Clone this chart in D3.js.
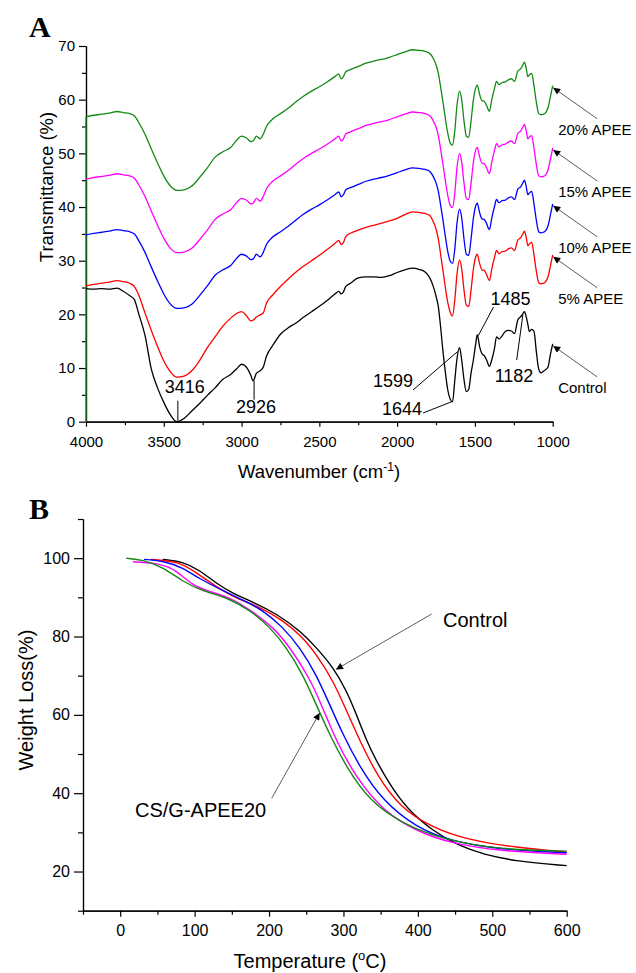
<!DOCTYPE html>
<html><head><meta charset="utf-8">
<script src="https://cdn.jsdelivr.net/npm/d3@7"></script>
<style>body{margin:0;background:#fff}svg{display:block}</style>
</head><body>
<svg id="c" width="636" height="973"></svg>
<script>
// ---------- Panel A: FTIR ----------
const wavenumbers = [
 4000,3950,3900,3850,3800,3760,3720,3690,3660,3620,
 3580,3540,3500,3460,3416,3370,3320,3270,3220,3170,
 3120,3070,3030,3000,2970,2940,2926,2905,2880,2860,
 2840,2800,2750,2700,2650,2600,2550,2500,2450,2400,
 2375,2360,2345,2330,2300,2250,2200,2150,2100,2050,
 2000,1950,1900,1860,1820,1790,1770,1750,1735,1720,
 1705,1690,1675,1660,1644,1630,1615,1599,1585,1570,
 1555,1540,1525,1510,1495,1485,1470,1455,1440,1425,
 1407,1392,1375,1361,1345,1325,1305,1285,1265,1245,
 1225,1205,1190,1182,1170,1160,1150,1135,1120,1105,
 1090,1075,1060,1045,1030,1015,1000];
const ftirControl = [
 24.8,24.7,24.8,24.7,24.9,24.3,23.5,22.8,20.0,16.0,
 9.8,6.3,3.6,1.4,0.0,0.6,2.0,3.4,4.9,6.3,
 7.9,8.8,9.9,10.7,10.2,8.6,7.6,9.0,9.5,10.2,
 12.2,14.2,16.3,17.5,18.4,19.5,20.5,21.5,22.6,23.8,
 24.3,23.8,24.2,25.2,25.8,26.8,27.0,27.0,26.9,27.2,
 27.8,28.3,28.6,28.4,27.9,26.8,25.4,23.4,21.4,17.5,
 13.0,9.2,6.0,4.3,3.7,7.5,11.8,13.8,11.5,7.8,
 5.6,6.0,9.0,11.5,14.5,16.2,14.0,12.7,12.3,11.5,
 10.3,11.5,13.5,15.8,15.4,16.0,16.8,17.0,16.9,16.4,
 18.9,19.6,20.2,20.5,19.5,18.2,16.8,17.2,16.8,13.0,
 9.8,9.1,9.4,9.7,10.2,12.5,14.5];
const ftirApee5 = [
 25.3,25.6,25.8,26.0,26.3,26.1,25.8,25.2,23.5,20.2,
 17.0,14.0,11.3,9.4,8.3,8.5,9.5,11.4,13.8,15.8,
 17.8,19.3,20.2,20.5,19.8,18.8,18.9,19.5,19.9,20.3,
 22.1,23.6,25.2,26.6,27.9,29.0,30.0,31.0,32.1,33.2,
 33.8,33.0,33.4,34.5,35.1,35.7,36.2,36.6,37.0,37.4,
 37.9,38.6,39.1,39.0,38.8,38.4,37.4,35.9,34.0,31.1,
 28.1,25.0,22.3,20.5,19.7,22.5,27.5,30.1,28.5,24.5,
 21.7,21.5,24.5,28.4,30.7,31.2,29.5,28.3,28.2,27.4,
 26.3,28.4,30.5,31.9,31.3,31.7,31.8,32.2,32.4,31.9,
 33.8,34.3,35.1,35.5,34.3,32.8,33.1,33.4,31.0,28.0,
 25.9,25.7,25.8,26.1,27.0,29.0,31.1];
const ftirApee10 = [
 34.8,35.1,35.3,35.5,35.8,35.6,35.4,35.0,33.7,31.5,
 28.8,26.2,23.8,22.0,21.1,21.2,21.9,23.5,25.3,27.3,
 28.3,29.1,30.5,31.2,30.9,30.2,30.3,31.2,30.7,31.6,
 33.0,34.4,35.4,36.4,37.6,38.7,39.6,40.4,41.3,42.3,
 42.8,41.9,42.3,43.2,43.6,44.2,44.8,45.2,45.5,45.9,
 46.4,46.9,47.3,47.2,47.0,46.6,45.8,44.5,42.9,40.3,
 37.5,34.5,31.8,30.0,29.5,32.0,37.0,39.6,38.0,34.0,
 31.2,31.0,34.0,37.9,40.2,40.7,39.0,37.8,37.7,36.9,
 35.8,37.9,40.0,41.4,40.8,41.2,41.3,41.7,41.9,41.4,
 43.3,43.8,44.6,45.0,43.8,42.3,42.6,42.9,40.5,37.5,
 35.4,35.2,35.3,35.6,36.5,38.5,40.6];
const ftirApee15 = [
 45.2,45.5,45.7,45.9,46.2,46.0,45.8,45.4,44.1,41.9,
 39.2,36.6,34.2,32.4,31.5,31.6,32.3,33.9,35.7,37.7,
 38.7,39.5,40.9,41.6,41.3,40.6,40.7,41.6,41.1,42.0,
 43.4,44.8,45.8,46.8,48.0,49.1,50.0,50.8,51.7,52.7,
 53.2,52.3,52.7,53.6,54.0,54.6,55.2,55.6,55.9,56.3,
 56.8,57.3,57.7,57.6,57.4,57.0,56.2,54.9,53.3,50.7,
 47.9,44.9,42.2,40.4,39.9,42.4,47.4,50.0,48.4,44.4,
 41.6,41.4,44.4,48.3,50.6,51.1,49.4,48.2,48.1,47.3,
 46.2,48.3,50.4,51.8,51.2,51.6,51.7,52.1,52.3,51.8,
 53.7,54.2,55.0,55.4,54.2,52.7,53.0,53.3,50.9,47.9,
 45.8,45.6,45.7,46.0,46.9,48.9,51.0];
const ftirApee20 = [
 56.8,57.1,57.3,57.5,57.8,57.6,57.4,57.0,55.7,53.5,
 50.8,48.2,45.8,44.0,43.1,43.2,43.9,45.5,47.3,49.3,
 50.3,51.1,52.5,53.2,52.9,52.2,52.3,53.2,52.7,53.6,
 55.0,56.4,57.4,58.4,59.6,60.7,61.6,62.4,63.3,64.3,
 64.8,63.9,64.3,65.2,65.6,66.2,66.8,67.2,67.5,67.9,
 68.4,68.9,69.3,69.2,69.0,68.6,67.8,66.5,64.9,62.3,
 59.5,56.5,53.8,52.0,51.5,54.0,59.0,61.6,60.0,56.0,
 53.2,53.0,56.0,59.9,62.2,62.7,61.0,59.8,59.7,58.9,
 57.8,59.9,62.0,63.4,62.8,63.2,63.3,63.7,63.9,63.4,
 65.3,65.8,66.6,67.0,65.8,64.3,64.6,64.9,62.5,59.5,
 57.4,57.2,57.3,57.6,58.5,60.5,62.6];
const ftirNames  = ["Control","5% APEE","10% APEE","15% APEE","20% APEE"];
const ftirColors = ["#000000","#ff0000","#0000ff","#ff00ff","#138a13"];
const ftirXTicks = [4000,3500,3000,2500,2000,1500,1000];
const ftirYTicks = [0,10,20,30,40,50,60,70];

// ---------- Panel B: TGA ----------
const tgaControl = [[57,99.7],[84,99.1],[106,97.0],[129,93.6],[151,91.0],[182,88.5],[209,85.9],[241,81.6],[263,77.3],[286,72.2],[304,66.2],[317,60.3],[331,53.4],[344,48.3],[362,42.3],[384,36.3],[420,30.3],[456,26.5],[488,24.4],[532,22.6],[600,21.5]];
const tgaApee5   = [[41,99.7],[80,99.1],[102,96.3],[129,92.7],[156,89.7],[187,87.6],[218,84.2],[245,79.9],[263,75.6],[286,68.8],[304,61.1],[322,53.4],[344,44.9],[376,36.3],[420,31.2],[465,28.2],[532,26.1],[600,25.0]];
const tgaApee10  = [[32,99.7],[60,99.2],[84,97.6],[106,94.8],[138,91.7],[165,89.3],[192,86.7],[218,82.5],[241,77.3],[263,70.5],[281,62.8],[299,55.1],[322,46.6],[353,38.0],[398,31.2],[443,27.8],[510,25.6],[600,24.8]];
const tgaApee15  = [[17,99.1],[53,98.7],[75,97.0],[97,93.0],[120,91.5],[151,89.7],[178,86.3],[205,82.5],[228,77.3],[254,69.6],[272,61.9],[290,53.4],[317,44.0],[353,35.5],[398,30.3],[443,27.3],[510,25.2],[600,24.4]];
const tgaApee20  = [[8,100],[30,99.6],[57,97.8],[84,94.0],[111,91.6],[147,89.7],[174,86.7],[201,82.5],[223,77.3],[245,70.5],[263,62.8],[281,55.1],[304,46.6],[335,38.0],[380,32.1],[434,28.2],[510,25.6],[600,25.2]];
const tgaXTicks = [0,100,200,300,400,500,600];
const tgaYTicks = [20,40,60,80,100];

const FONT = "Arial, 'Liberation Sans', Helvetica, sans-serif";
const svg = d3.select("#c");
svg.append("rect").attr("width",636).attr("height",973).attr("fill","#fff");

const defs = svg.append("defs");
defs.append("marker").attr("id","arr").attr("viewBox","0 0 10 10")
  .attr("refX",10).attr("refY",5).attr("markerWidth",9).attr("markerHeight",7)
  .attr("markerUnits","userSpaceOnUse").attr("orient","auto")
  .append("path").attr("d","M0,0 L10,5 L0,10 Z").attr("fill","#000");

function styleAxis(g, size){
  g.attr("font-family",FONT).attr("font-size",size);
  g.selectAll("path,line").attr("stroke","#000").attr("stroke-width",1.2);
  g.selectAll("text").attr("fill","#000");
}

// ===== Panel A =====
const xA = d3.scaleLinear().domain([4000,1000]).range([86,552.7]);
const yA = d3.scaleLinear().domain([0,70]).range([421.7,46]);
const gA = svg.append("g");

const minorAx = d3.range(4000,999,-250).filter(v=>!ftirXTicks.includes(v));
const minorAy = d3.range(5,70,10);
gA.append("g").attr("transform",`translate(0,${yA(0)})`)
  .call(d3.axisBottom(xA).tickValues(minorAx).tickSize(3.5).tickFormat("").tickSizeOuter(0))
  .call(g=>styleAxis(g,15));
gA.append("g").attr("transform",`translate(0,${yA(0)})`)
  .call(d3.axisBottom(xA).tickValues(ftirXTicks).tickSize(5).tickPadding(10).tickSizeOuter(0).tickFormat(d3.format("d")))
  .call(g=>styleAxis(g,15));
gA.append("g").attr("transform",`translate(${xA(4000)},0)`)
  .call(d3.axisLeft(yA).tickValues(minorAy).tickSize(4).tickFormat("").tickSizeOuter(0))
  .call(g=>styleAxis(g,15));
gA.append("g").attr("transform",`translate(${xA(4000)},0)`)
  .call(d3.axisLeft(yA).tickValues(ftirYTicks).tickSize(7).tickPadding(4).tickSizeOuter(0))
  .call(g=>styleAxis(g,15));

const ftirSeries = [ftirControl, ftirApee5, ftirApee10, ftirApee15, ftirApee20];
gA.append("line").attr("x1",xA(4000)).attr("x2",xA(4000))
  .attr("y1",yA(ftirApee20[0])).attr("y2",yA(0))
  .attr("stroke",ftirColors[4]).attr("stroke-width",1.3);

const lineA = d3.line().x(d=>xA(d[0])).y(d=>yA(d[1])).curve(d3.curveMonotoneX);
ftirSeries.forEach((vals,i)=>{
  gA.append("path").datum(wavenumbers.map((w,j)=>[w,vals[j]]))
    .attr("d",lineA).attr("fill","none").attr("stroke",ftirColors[i]).attr("stroke-width",1.3);
});

ftirSeries.forEach((vals,i)=>{
  const ex = xA(1000)+0.5, ey = yA(vals[vals.length-1])+2;
  gA.append("line").attr("x1",ex+44).attr("y1",ey+31).attr("x2",ex).attr("y2",ey)
    .attr("stroke","#333").attr("stroke-width",0.8).attr("marker-end","url(#arr)");
  gA.append("text").attr("x",ex+5).attr("y",ey+47).text(ftirNames[i])
    .attr("font-family",FONT).attr("font-size",15).attr("fill","#000");
});

const annA = gA.append("g").attr("font-family",FONT).attr("font-size",18).attr("fill","#000");
function ftirVal(w){ return ftirControl[wavenumbers.indexOf(w)]; }
annA.append("line").attr("x1",xA(3416)+1).attr("x2",xA(3416)+1).attr("y1",yA(0)).attr("y2",yA(0)-21).attr("stroke","#000").attr("stroke-width",1);
annA.append("text").attr("x",xA(3416)+8).attr("y",yA(0)-29).attr("text-anchor","middle").text("3416");
annA.append("line").attr("x1",xA(2926)+1).attr("x2",xA(2926)+1).attr("y1",yA(ftirVal(2926))).attr("y2",yA(0)-22).attr("stroke","#000").attr("stroke-width",1);
annA.append("text").attr("x",xA(2926)+3).attr("y",yA(0)-9).attr("text-anchor","middle").text("2926");
annA.append("line").attr("x1",413).attr("y1",390).attr("x2",xA(1599)-2).attr("y2",yA(ftirVal(1599))+4).attr("stroke","#000").attr("stroke-width",1);
annA.append("text").attr("x",393).attr("y",387).attr("text-anchor","middle").text("1599");
annA.append("line").attr("x1",423).attr("y1",413).attr("x2",xA(1644)-1).attr("y2",yA(ftirVal(1644))).attr("stroke","#000").attr("stroke-width",1);
annA.append("text").attr("x",402).attr("y",415).attr("text-anchor","middle").text("1644");
annA.append("line").attr("x1",493.5).attr("y1",307).attr("x2",xA(1485)+1).attr("y2",yA(ftirVal(1485))+1).attr("stroke","#000").attr("stroke-width",1);
annA.append("text").attr("x",510.5).attr("y",305).attr("text-anchor","middle").text("1485");
annA.append("line").attr("x1",516.7).attr("y1",360).attr("x2",xA(1182)-1.5).attr("y2",yA(ftirVal(1182))+3).attr("stroke","#000").attr("stroke-width",1);
annA.append("text").attr("x",514).attr("y",382).attr("text-anchor","middle").text("1182");

svg.append("text").attr("transform","translate(53,187) rotate(-90)").attr("text-anchor","middle")
  .attr("font-family",FONT).attr("font-size",18.5).attr("fill","#000").text("Transmittance (%)");
const tA = svg.append("text").attr("x",319).attr("y",478).attr("text-anchor","middle")
  .attr("font-family",FONT).attr("font-size",18.5).attr("fill","#000");
tA.append("tspan").text("Wavenumber (cm");
tA.append("tspan").attr("dy",-7).attr("font-size",12).text("-1");
tA.append("tspan").attr("dy",7).text(")");
svg.append("text").attr("x",29).attr("y",37).attr("font-family","'Times New Roman','Liberation Serif',serif")
  .attr("font-weight","bold").attr("font-size",30).attr("fill","#000").text("A");

// ===== Panel B =====
const xB = d3.scaleLinear().domain([-50,600]).range([83,566.7]);
const yB = d3.scaleLinear().domain([10,110]).range([910.7,519]);
const gB = svg.append("g");
const minorBx = d3.range(-50,600,100);
const minorBy = [10,30,50,70,90,110];
gB.append("g").attr("transform",`translate(0,${yB(10)})`)
  .call(d3.axisBottom(xB).tickValues(minorBx).tickSize(4).tickFormat("").tickSizeOuter(0))
  .call(g=>styleAxis(g,16));
gB.append("g").attr("transform",`translate(0,${yB(10)})`)
  .call(d3.axisBottom(xB).tickValues(tgaXTicks).tickSize(6).tickPadding(8).tickSizeOuter(0))
  .call(g=>styleAxis(g,16));
gB.append("g").attr("transform",`translate(${xB(-50)},0)`)
  .call(d3.axisLeft(yB).tickValues(minorBy).tickSize(5).tickFormat("").tickSizeOuter(0))
  .call(g=>styleAxis(g,16));
gB.append("g").attr("transform",`translate(${xB(-50)},0)`)
  .call(d3.axisLeft(yB).tickValues(tgaYTicks).tickSize(9).tickPadding(4).tickSizeOuter(0))
  .call(g=>styleAxis(g,16));

const tgaSeries = [tgaControl, tgaApee5, tgaApee10, tgaApee15, tgaApee20];
const lineB = d3.line().x(d=>xB(d[0])).y(d=>yB(d[1])).curve(d3.curveBasis);
tgaSeries.forEach((s,i)=>{
  gB.append("path").datum(s).attr("d",lineB).attr("fill","none")
    .attr("stroke",ftirColors[i]).attr("stroke-width",1.4);
});

gB.append("line").attr("x1",431.7).attr("y1",614).attr("x2",336).attr("y2",yB(71.6))
  .attr("stroke","#333").attr("stroke-width",0.8).attr("marker-end","url(#arr)");
gB.append("text").attr("x",443).attr("y",627).attr("font-family",FONT).attr("font-size",20).attr("fill","#000").text("Control");
gB.append("line").attr("x1",271.7).attr("y1",798.3).attr("x2",xB(268)).attr("y2",yB(60.5))
  .attr("stroke","#333").attr("stroke-width",0.8).attr("marker-end","url(#arr)");
gB.append("text").attr("x",135).attr("y",817).attr("font-family",FONT).attr("font-size",20).attr("fill","#000").text("CS/G-APEE20");

svg.append("text").attr("transform","translate(33,700) rotate(-90)").attr("text-anchor","middle")
  .attr("font-family",FONT).attr("font-size",20).attr("fill","#000").text("Weight Loss(%)");
const tB = svg.append("text").attr("x",310).attr("y",968).attr("text-anchor","middle")
  .attr("font-family",FONT).attr("font-size",20).attr("fill","#000");
tB.append("tspan").text("Temperature (");
tB.append("tspan").attr("dy",-8).attr("font-size",13).text("o");
tB.append("tspan").attr("dy",8).text("C)");
svg.append("text").attr("x",29).attr("y",519).attr("font-family","'Times New Roman','Liberation Serif',serif")
  .attr("font-weight","bold").attr("font-size",30).attr("fill","#000").text("B");
</script>
</body></html>
